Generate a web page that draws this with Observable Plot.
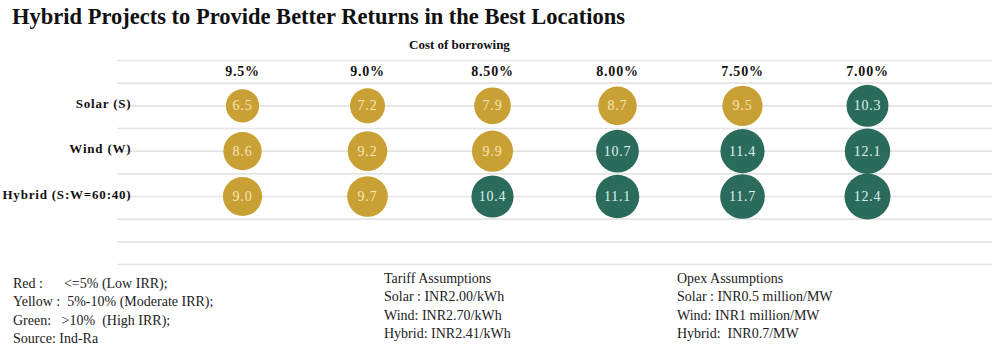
<!DOCTYPE html>
<html><head><meta charset="utf-8">
<script src="https://cdn.jsdelivr.net/npm/d3@7"></script>
<script src="https://cdn.jsdelivr.net/npm/@observablehq/plot@0.6"></script>
<style>
body{margin:0;background:#fff;font-family:"Liberation Serif","DejaVu Serif",serif;color:#111;}
#wrap{position:relative;width:1000px;height:362px;overflow:hidden;background:#fff}
#title{position:absolute;left:12px;top:4px;font-size:22.5px;font-weight:bold;white-space:nowrap;color:#111}
#sub{position:absolute;left:409px;top:37px;font-size:13px;font-weight:bold;white-space:nowrap}
#chart{position:absolute;left:0;top:56px}
.note{position:absolute;font-size:14px;line-height:18.3px;white-space:pre;color:#222}
</style></head>
<body>
<div id="wrap">
  <div id="title"></div>
  <div id="sub"></div>
  <div id="chart"></div>
  <div class="note" id="legend" style="left:13px;top:275px"></div>
  <div class="note" id="tariff" style="left:384px;top:270px"></div>
  <div class="note" id="opex" style="left:677px;top:270px"></div>
</div>
<script>
const title = "Hybrid Projects to Provide Better Returns in the Best Locations";
const subtitle = "Cost of borrowing";
const costs = ["9.5%", "9.0%", "8.50%", "8.00%", "7.50%", "7.00%"];
const techs = ["Solar (S)", "Wind (W)", "Hybrid (S:W=60:40)"];
const solar = [6.5, 7.2, 7.9, 8.7, 9.5, 10.3];
const wind = [8.6, 9.2, 9.9, 10.7, 11.4, 12.1];
const hybrid = [9.0, 9.7, 10.4, 11.1, 11.7, 12.4];
const legendLines = ["Red :      <=5% (Low IRR);", "Yellow :  5%-10% (Moderate IRR);", "Green:   >10%  (High IRR);", "Source: Ind-Ra"];
const tariffLines = ["Tariff Assumptions", "Solar : INR2.00/kWh", "Wind: INR2.70/kWh", "Hybrid: INR2.41/kWh"];
const opexLines = ["Opex Assumptions", "Solar : INR0.5 million/MW", "Wind: INR1 million/MW", "Hybrid:  INR0.7/MW"];

document.getElementById("title").textContent = title;
document.getElementById("sub").textContent = subtitle;
document.getElementById("legend").textContent = legendLines.join("\n");
document.getElementById("tariff").textContent = tariffLines.join("\n");
document.getElementById("opex").textContent = opexLines.join("\n");

const series = [solar, wind, hybrid];
const data = [];
techs.forEach((t, i) => series[i].forEach((v, j) => data.push({tech: t, row: 2 * (i + 1), cost: costs[j], value: v, band: v > 10 ? "High" : "Moderate"})));
const rows = techs.map((t, i) => ({tech: t, row: 2 * (i + 1)}));
const headers = costs.map(c => ({cost: c, row: 0.5}));

const chart = Plot.plot({
  width: 1000,
  height: 214,
  marginLeft: 117,
  marginRight: 8,
  marginTop: 4,
  marginBottom: 6,
  style: {fontFamily: "'Liberation Serif', serif", background: "transparent"},
  x: {type: "point", domain: costs, padding: 1, axis: null},
  y: {domain: [0, 9], reverse: true, axis: null},
  r: {range: [0, 23]},
  color: {domain: ["Moderate", "High"], range: ["#C9A033", "#2B6B5C"]},
  marks: [
    Plot.ruleY(d3.range(10), {stroke: "#e4e4e4", strokeWidth: 1.6}),
    Plot.text(headers, {x: "cost", y: "row", text: "cost", fontSize: 14, fontWeight: "bold", fill: "#111"}),
    Plot.text(rows, {y: "row", text: "tech", frameAnchor: "left", textAnchor: "end", dx: 14, dy: -2, fontSize: 13, fontWeight: "bold", fill: "#111"}),
    Plot.dot(data, {x: "cost", y: "row", r: "value", fill: "band", stroke: null}),
    Plot.text(data, {x: "cost", y: "row", text: d => d3.format(".1f")(d.value), fontSize: 14, fill: d => d.value > 10 ? "#DDF2EE" : "#F6E7BC"})
  ]
});
document.getElementById("chart").appendChild(chart);
d3.select(chart).selectAll("text").style("letter-spacing", "0.8px");
</script>
</body></html>
